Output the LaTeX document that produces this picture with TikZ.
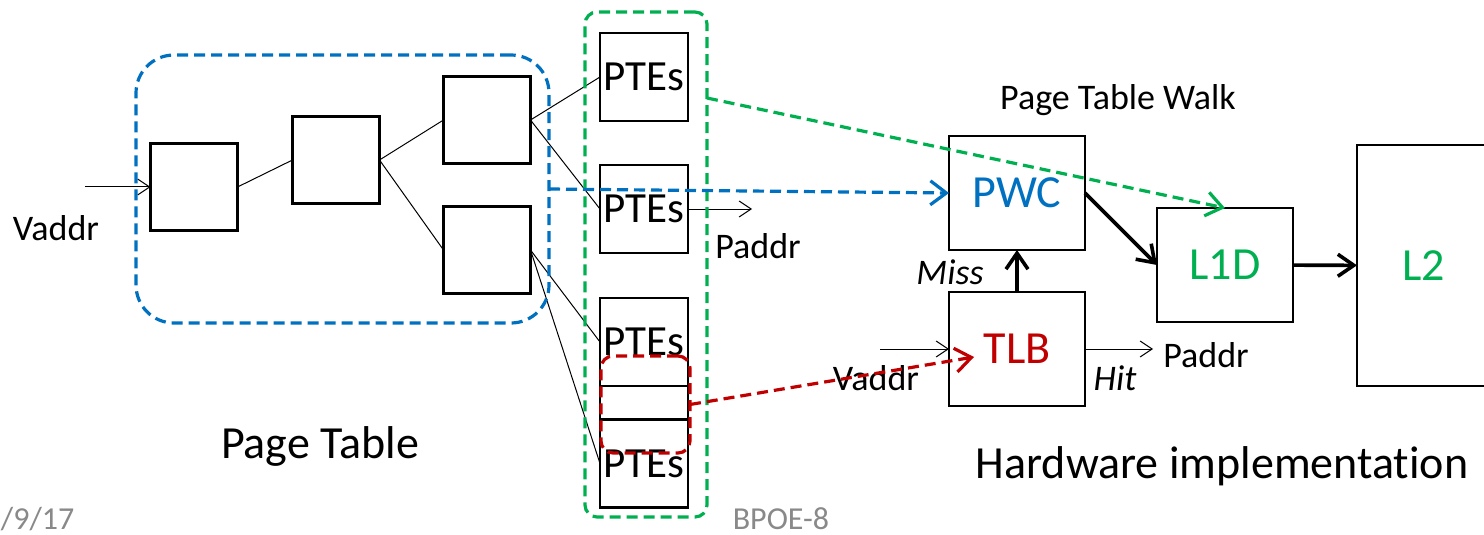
\documentclass[tikz,border=0pt]{standalone}
\usepackage{fontspec}
\setmainfont{Carlito}[Ligatures=NoCommon]
\usetikzlibrary{arrows.meta}
\definecolor{pwcblue}{RGB}{0,112,192}
\definecolor{lgreen}{RGB}{0,176,80}
\definecolor{tlbred}{RGB}{192,0,0}
\definecolor{footgray}{RGB}{137,137,137}

\begin{document}
\begin{tikzpicture}[x=0.5pt,y=-0.5pt]
      \tikzstyle{every node}=[inner sep=0pt,outer sep=0pt];
      \tikzstyle{sq}=[draw,line width=1.3pt,minimum width=43.5pt,minimum height=43.5pt];
      \tikzstyle{pte}=[draw,line width=1.3pt,minimum width=44pt,minimum height=44pt,font=\fontsize{21.5}{24}\selectfont];
      \tikzstyle{hw}=[draw,line width=1.3pt,minimum width=68pt,minimum height=57pt,font=\fontsize{23}{27}\selectfont];
      \tikzstyle{lbl}=[font=\fontsize{18}{21}\selectfont];
      \tikzstyle{big}=[font=\fontsize{23}{27}\selectfont];
      \tikzstyle{foot}=[text=footgray,font=\fontsize{16}{19}\selectfont];
      \tikzstyle{feed}=[draw,line width=0.5pt,-{Straight Barb[length=6pt,width=8pt]}];
      \tikzstyle{flow}=[draw,line width=1.8pt,-{Straight Barb[length=8pt,width=11pt]}];
      \tikzstyle{grp}=[draw,dash pattern=on 5.5pt off 3pt,line width=1.6pt];
      \tikzstyle{grparrow}=[grp,-{Straight Barb[length=8pt,width=12pt]}];

        \useasboundingbox (0,0) rectangle (1484,535);

        \path (194,187)  node[sq] (t1) {};
        \path (336,160)  node[sq] (t2) {};
        \path (487,120)  node[sq] (t3) {};
        \path (487,250)  node[sq] (t4) {};

        \path (644,77)    node[pte] (p1) {PTEs};
        \path (644,209)   node[pte] (p2) {PTEs};
        \path (644,342)   node[pte] (p3) {PTEs};
        \path (644,403)   node[pte,minimum height=17pt] (p0) {};
        \path (644,463.5) node[pte] (p4) {PTEs};

        \path (1017,193)   node[hw,text=pwcblue] (pwc) {PWC};
        \path (1017,349)   node[hw,text=tlbred] (tlb) {TLB};
        \path (1225,265)   node[hw,text=lgreen] (l1d) {L1D};
        \path (1423.5,265.5) node[hw,text=lgreen,minimum width=66.5pt,minimum height=120.5pt] (l2) {L2};

        \path (56,228)    node[lbl] (vaddr) {Vaddr};
        \path (758,246)   node[lbl] (paddr) {Paddr};
        \path (1118,100)  node[lbl] (walk) {Page Table Walk};
        \path (950,272)   node[lbl,font=\fontsize{18}{21}\selectfont\itshape] (miss) {Miss};
        \path (876,378)   node[lbl] (tvaddr) {Vaddr};
        \path (1206,355)  node[lbl] (tpaddr) {Paddr};
        \path (1115,378)  node[lbl,font=\fontsize{18}{21}\selectfont\itshape] (hit) {Hit};
        \path (320,446)   node[big] (pt) {Page Table};
        \path (1222,466)  node[big] (hwi) {Hardware implementation};
        \path (781,519)   node[foot] (conf) {BPOE-8};
        \path (1,519)     node[foot,anchor=west] (date) {/9/17};

        \coordinate (vin) at (85,187);
        \coordinate (pout) at (752,209);
        \coordinate (tin) at (880,349);
        \coordinate (tout) at (1153,349);
        \coordinate (gout) at (707,98);

        \path[feed] (vin) -- (t1);
        \path[draw,line width=0.5pt] (t1.east) -- (t2.west);
        \path[draw,line width=0.5pt] (t2.east) -- (t3.west);
        \path[draw,line width=0.5pt] (t2.east) -- (t4.west);
        \path[draw,line width=0.5pt] (t3.east) -- (p1.west);
        \path[draw,line width=0.5pt] (t3.east) -- (p2.west);
        \path[draw,line width=0.5pt] (t4.east) -- (p3.west);
        \path[draw,line width=0.5pt] (t4.east) -- (p4.west);
        \path[feed] (p2.east) -- (pout);
        \path[feed] (tin) -- (tlb.west);
        \path[feed] (tlb.east) -- (tout);
        \path[flow] (tlb) -- (pwc);
        \path[flow] (pwc.east) -- (l1d.west);
        \path[flow] (l1d) -- (l2);

        \path (342.5,189) node[grp,pwcblue,rounded corners=19pt,minimum width=206.5pt,minimum height=134pt] (ptblk) {};
        \path (646,264.5) node[grp,lgreen,rounded corners=6pt,minimum width=61pt,minimum height=252.5pt] (pteblk) {};
        \path (645.5,404.5) node[grp,tlbred,rounded corners=6pt,minimum width=44.5pt,minimum height=48.5pt] (tlbblk) {};

        \path[grparrow,pwcblue] (ptblk.east) -- (pwc.west);
        \path[grparrow,lgreen] (gout) -- (l1d.north);
        \path[grparrow,tlbred] (tlbblk.east) -- ([shift={(25,8)}]tlb.west);
    \end{tikzpicture}
\end{document}
